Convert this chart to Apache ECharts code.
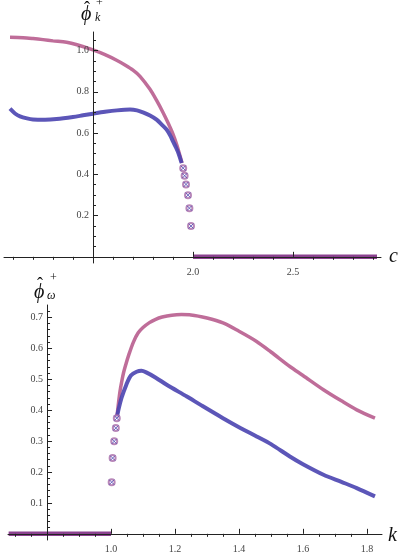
<!DOCTYPE html>
<html>
<head>
<meta charset="utf-8">
<script src="https://cdn.jsdelivr.net/npm/echarts@6/dist/echarts.min.js"></script>
<style>
  html, body { margin: 0; padding: 0; background: #fff; }
  #chart { width: 407px; height: 553px; }
</style>
</head>
<body>
<div id="chart"></div>
<script>
// ---- top panel: phi_k^+ against c ----
const topPinkC = [1.085, 1.15, 1.2, 1.25, 1.3, 1.368, 1.42, 1.5, 1.56, 1.618, 1.66, 1.7, 1.735, 1.785, 1.818, 1.85, 1.875, 1.9, 1.92, 1.935, 1.945];
const topPinkV = [1.064, 1.062, 1.058, 1.053, 1.047, 1.04, 1.028, 1.003, 0.98, 0.953, 0.93, 0.905, 0.875, 0.812, 0.758, 0.7, 0.65, 0.595, 0.54, 0.49, 0.455];
const topBlueC = [1.085, 1.11, 1.135, 1.17, 1.2, 1.26, 1.318, 1.4, 1.45, 1.5, 1.56, 1.62, 1.685, 1.72, 1.75, 1.785, 1.818, 1.845, 1.868, 1.885, 1.9, 1.915, 1.927, 1.943];
const topBlueV = [0.718, 0.695, 0.681, 0.671, 0.666, 0.665, 0.668, 0.678, 0.686, 0.694, 0.703, 0.71, 0.714, 0.71, 0.7, 0.685, 0.665, 0.64, 0.617, 0.59, 0.56, 0.53, 0.503, 0.455];
const topTailC = [1.951, 1.958, 1.965, 1.975, 1.982, 1.99];
const topTailV = [0.43, 0.393, 0.351, 0.299, 0.236, 0.149];
const topZeroC = [2.0, 2.92];
const topZeroV = [0, 0];

// ---- bottom panel: phi_omega^+ against k ----
const botPinkK = [1.018, 1.023, 1.028, 1.033, 1.039, 1.047, 1.054, 1.07, 1.085, 1.1, 1.12, 1.138, 1.16, 1.19, 1.22, 1.25, 1.3, 1.35, 1.4, 1.455, 1.5, 1.559, 1.6, 1.664, 1.72, 1.768, 1.825];
const botPinkV = [0.374, 0.42, 0.46, 0.49, 0.52, 0.55, 0.574, 0.62, 0.65, 0.667, 0.683, 0.693, 0.701, 0.707, 0.709, 0.708, 0.698, 0.682, 0.655, 0.622, 0.588, 0.541, 0.512, 0.466, 0.43, 0.401, 0.374];
const botBlueK = [1.018, 1.023, 1.033, 1.047, 1.062, 1.08, 1.095, 1.11, 1.14, 1.174, 1.237, 1.28, 1.35, 1.4, 1.455, 1.5, 1.559, 1.6, 1.664, 1.72, 1.768, 1.825];
const botBlueV = [0.374, 0.4, 0.44, 0.48, 0.512, 0.524, 0.527, 0.522, 0.505, 0.482, 0.444, 0.417, 0.374, 0.345, 0.315, 0.29, 0.25, 0.225, 0.191, 0.168, 0.148, 0.121];
const botTailK = [1.002, 1.005, 1.01, 1.015, 1.018];
const botTailV = [0.167, 0.245, 0.299, 0.342, 0.374];
const botZeroK = [0.68, 1.0];
const botZeroV = [0, 0];

// tick positions
const topXLabels = [2.0, 2.5];
const topXMinor = [1.1, 1.2, 1.3, 1.4, 1.6, 1.7, 1.8, 1.9, 2.1, 2.2, 2.3, 2.4, 2.6, 2.7, 2.8, 2.9];
const topYLabels = [0.2, 0.4, 0.6, 0.8, 1.0];
const topYMinor = [0.05, 0.1, 0.15, 0.25, 0.3, 0.35, 0.45, 0.5, 0.55, 0.65, 0.7, 0.75, 0.85, 0.9, 0.95, 1.05];
const botXLabels = [1.0, 1.2, 1.4, 1.6, 1.8];
const botXMinor = [0.7, 0.75, 0.85, 0.9, 0.95, 1.05, 1.1, 1.15, 1.25, 1.3, 1.35, 1.45, 1.5, 1.55, 1.65, 1.7, 1.75, 1.85];
const botYLabels = [0.1, 0.2, 0.3, 0.4, 0.5, 0.6, 0.7];
const botYMinor = [0.02, 0.04, 0.06, 0.08, 0.12, 0.14, 0.16, 0.18, 0.22, 0.24, 0.26, 0.28, 0.32, 0.34, 0.36, 0.38, 0.42, 0.44, 0.46, 0.48, 0.52, 0.54, 0.56, 0.58, 0.62, 0.64, 0.66, 0.68, 0.72];

const PINK = "#b85d8e";
const BLUE = "#4a44b0";
const BAND = "#8c4290";
const SERIF = "Liberation Serif";

const zip = (xs, ys) => xs.map((x, i) => [x, ys[i]]);

const chart = echarts.init(document.getElementById("chart"));

function xAxisPair(grid, min, max, labels, minor) {
  const base = {
    type: "value", gridIndex: grid, min: min, max: max, z: 4,
    splitLine: { show: false },
    axisLine: { onZero: true, lineStyle: { color: "#222", width: 1 } },
  };
  return [
    Object.assign({}, base, {
      axisTick: { inside: true, length: 5, customValues: labels, lineStyle: { color: "#222" } },
      axisLabel: {
        customValues: labels, margin: 4, fontFamily: SERIF, fontSize: 10, color: "#444",
        formatter: (v) => v.toFixed(1),
      },
    }),
    Object.assign({}, base, {
      axisLine: { show: false, onZero: true },
      axisTick: { inside: true, length: 3, customValues: minor, lineStyle: { color: "#222" } },
      axisLabel: { show: false },
    }),
  ];
}

function yAxisPair(grid, min, max, labels, minor) {
  const base = {
    type: "value", gridIndex: grid, min: min, max: max, z: 4, position: "left",
    splitLine: { show: false },
    axisLine: { onZero: false, lineStyle: { color: "#222", width: 1 } },
  };
  return [
    Object.assign({}, base, {
      axisTick: { inside: true, length: 5, customValues: labels, lineStyle: { color: "#222" } },
      axisLabel: {
        customValues: labels, margin: 4, fontFamily: SERIF, fontSize: 10, color: "#444",
        formatter: (v) => v.toFixed(1),
      },
    }),
    Object.assign({}, base, {
      axisLine: { show: false, onZero: false },
      axisTick: { inside: true, length: 3, customValues: minor, lineStyle: { color: "#222" } },
      axisLabel: { show: false },
    }),
  ];
}

function band(name, x, y, xi, yi, color, width) {
  return {
    name: name, type: "line", xAxisIndex: xi, yAxisIndex: yi,
    data: zip(x, y), showSymbol: false, silent: true, z: 2,
    lineStyle: { color: color, width: width },
  };
}

function crosses(name, x, y, xi, yi) {
  return {
    name: name, type: "scatter", xAxisIndex: xi, yAxisIndex: yi,
    data: zip(x, y), symbol: "path://M0,0L10,10M10,0L0,10", symbolSize: 5, z: 3,
    itemStyle: { color: "none", borderColor: BLUE, borderWidth: 1 },
  };
}

function circles(name, x, y, xi, yi) {
  // emptyCircle strokes with itemStyle.color
  return {
    name: name, type: "scatter", xAxisIndex: xi, yAxisIndex: yi,
    data: zip(x, y), symbol: "emptyCircle", symbolSize: 6, z: 3,
    itemStyle: { color: "#a86aa8", borderWidth: 1.1 },
  };
}

function curve(name, x, y, xi, yi, color, width) {
  return {
    name: name, type: "line", xAxisIndex: xi, yAxisIndex: yi,
    data: zip(x, y), smooth: 0.3, showSymbol: false, z: 2,
    lineStyle: { color: color, width: width, opacity: 0.9 },
  };
}

const option = {
  animation: false,
  backgroundColor: "#fff",
  grid: [
    { left: 4, top: 32, width: 377, height: 231, outerBoundsMode: "none", containLabel: false },
    { left: 8, top: 305, width: 374, height: 235, outerBoundsMode: "none", containLabel: false },
  ],
  xAxis: [
    ...xAxisPair(0, 1.055, 2.94, topXLabels, topXMinor),
    ...xAxisPair(1, 0.678, 1.847, botXLabels, botXMinor),
  ],
  yAxis: [
    ...yAxisPair(0, -0.03, 1.09, topYLabels, topYMinor),
    ...yAxisPair(1, -0.02, 0.74, botYLabels, botYMinor),
  ],
  series: [
    band("top zero", topZeroC, topZeroV, 0, 0, BAND, 4.5),
    curve("top pink", topPinkC, topPinkV, 0, 0, PINK, 3.5),
    curve("top blue", topBlueC, topBlueV, 0, 0, BLUE, 4),
    circles("top pink tail", topTailC, topTailV, 0, 0),
    crosses("top blue tail", topTailC, topTailV, 0, 0),
    band("bottom zero", botZeroK, botZeroV, 2, 2, BAND, 4.5),
    curve("bottom pink", botPinkK, botPinkV, 2, 2, PINK, 3.5),
    curve("bottom blue", botBlueK, botBlueV, 2, 2, BLUE, 4),
    circles("bottom pink tail", botTailK, botTailV, 2, 2),
    crosses("bottom blue tail", botTailK, botTailV, 2, 2),
  ],
  graphic: [
    { type: "text", left: 81, top: 5, style: { text: "ϕ", font: "italic 20px 'Liberation Serif'", fill: "#111" } },
    { type: "text", left: 84, top: 0, style: { text: "ˆ", font: "18px 'Liberation Serif'", fill: "#111" } },
    { type: "text", left: 96, top: -3, style: { text: "+", font: "12px 'Liberation Serif'", fill: "#111" } },
    { type: "text", left: 95, top: 12, style: { text: "k", font: "italic 12px 'Liberation Serif'", fill: "#111" } },
    { type: "text", left: 389, top: 247, style: { text: "c", font: "italic 20px 'Liberation Serif'", fill: "#111" } },
    { type: "text", left: 34, top: 283, style: { text: "ϕ", font: "italic 20px 'Liberation Serif'", fill: "#111" } },
    { type: "text", left: 37, top: 276, style: { text: "ˆ", font: "18px 'Liberation Serif'", fill: "#111" } },
    { type: "text", left: 50, top: 272, style: { text: "+", font: "12px 'Liberation Serif'", fill: "#111" } },
    { type: "text", left: 47, top: 290, style: { text: "ω", font: "italic 12px 'Liberation Serif'", fill: "#111" } },
    { type: "text", left: 388, top: 526, style: { text: "k", font: "italic 20px 'Liberation Serif'", fill: "#111" } },
  ],
};

chart.setOption(option);

// put each y axis where its panel's x axis reads 1.5 (top) and 0.8 (bottom)
const topOff = chart.convertToPixel({ xAxisIndex: 0 }, 1.5) - 4;
const botOff = chart.convertToPixel({ xAxisIndex: 2 }, 0.8) - 8;
chart.setOption({
  yAxis: [{ offset: -topOff }, { offset: -topOff }, { offset: -botOff }, { offset: -botOff }],
});
</script>
</body>
</html>
